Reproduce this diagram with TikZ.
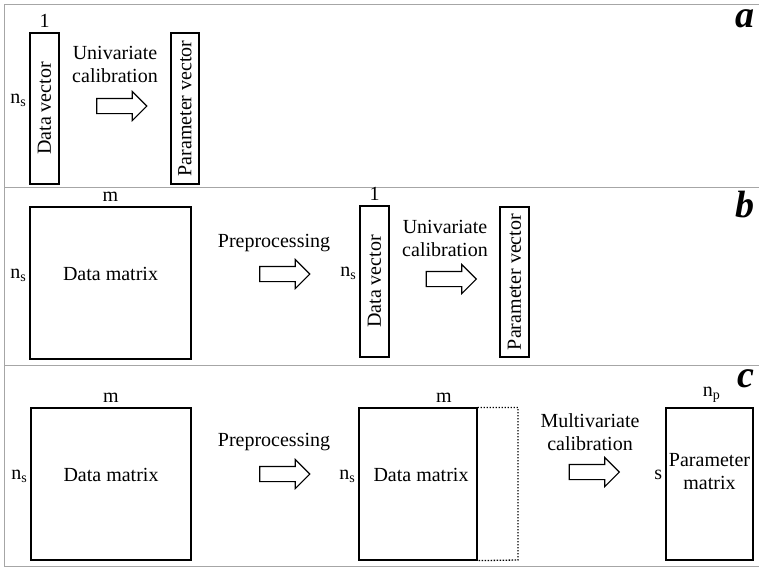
\documentclass[tikz,border=0pt]{standalone}
\usepackage{fontspec}
\setmainfont{Liberation Serif}
\usetikzlibrary{positioning,shapes.arrows}

\begin{document}
\begin{tikzpicture}[x=1pt,y=-1pt,
  every node/.style={font=\fontsize{20}{23}\selectfont},
  blk/.style={draw,line width=1.2pt,inner sep=0pt},
  arr/.style={single arrow,draw,line width=1.1pt,minimum height=50pt,
    inner xsep=0pt,inner ysep=7pt,single arrow head extend=7pt},
  lab/.style={inner sep=0pt},
  ns/.style={inner sep=0pt,anchor=base east,xshift=-3pt,yshift=5pt},
  tag/.style={font=\fontsize{38}{40}\selectfont\bfseries\itshape,
    inner sep=0pt,anchor=base east},
  frame/.style={draw=gray!70,line width=1pt}]
  \useasboundingbox (0,0) rectangle (759,568);
  \draw[frame] (759,4) -- (4,4) -- (4,566) -- (759,566);
  \draw[frame] (4,187) -- (759,187);
  \draw[frame] (4,365) -- (759,365);
  \node[tag] (tga) at (755,27) {a};
  \node[tag] (tgb) at (755,217) {b};
  \node[tag] (tgc) at (755,387) {c};
  \node[blk,minimum width=29pt,minimum height=151pt] (dva) at (44.5,108.5) {\rotatebox{90}{Data vector}};
  \node[lab,above=5pt of dva] {1};
  \node[ns] at (dva.west) {n\textsubscript{s}};
  \node[align=center] (uca) at (115,64) {Univariate\\calibration};
  \node[arr] (ara) at (118,106) {};
  \node[blk,minimum width=28pt,minimum height=151pt] (pva) at (185,108.5) {\rotatebox{90}{Parameter vector}};
  \node[blk,minimum width=161pt,minimum height=152pt] (dmb) at (110.5,283) {};
  \node (dmbt) at (110.5,274) {Data matrix};
  \node[lab,above=5pt of dmb] {m};
  \node[ns] at (dmb.west) {n\textsubscript{s}};
  \node (ppb) at (274,243) {Preprocessing};
  \node[arr] (arb) at (281,274) {};
  \node[blk,minimum width=29pt,minimum height=151pt] (dvb) at (374.5,281.5) {\rotatebox{90}{Data vector}};
  \node[lab,above=5pt of dvb] {1};
  \node[ns] at (dvb.west) {n\textsubscript{s}};
  \node[align=center] (ucb) at (445,238) {Univariate\\calibration};
  \node[arr] (arb2) at (447.5,279) {};
  \node[blk,minimum width=29pt,minimum height=150pt] (pvb) at (514.5,282) {\rotatebox{90}{Parameter vector}};
  \node[blk,minimum width=160pt,minimum height=152pt] (dmc) at (111,484) {};
  \node (dmct) at (111,475) {Data matrix};
  \node[lab,above=5pt of dmc] {m};
  \node[ns] at (dmc.west) {n\textsubscript{s}};
  \node (ppc) at (274,442) {Preprocessing};
  \node[arr] (arc) at (281,474) {};
  \node[blk,minimum width=118pt,minimum height=152pt] (dmd) at (418,484) {};
  \node (dmdt) at (421,475) {Data matrix};
  \coordinate (ext) at (518,560);
  \draw[line width=1.3pt,dash pattern=on 1.3pt off 1.7pt] (dmd.north east) -| (ext) -- (dmd.south east);
  \node[lab,above=5pt of dmd.north,xshift=26pt] {m};
  \node[ns] at (dmd.west) {n\textsubscript{s}};
  \node[align=center] (mcc) at (590,432) {Multivariate\\calibration};
  \node[arr] (arc2) at (590.5,472) {};
  \node[blk,minimum width=87pt,minimum height=152pt] (pmc) at (709.5,484) {};
  \node[align=center] (pmct) at (709.5,472) {Parameter\\matrix};
  \node[lab,above=5pt of pmc,xshift=2pt] {n\textsubscript{p}};
  \node[ns] at (pmc.west) {s};
\end{tikzpicture}
\end{document}
